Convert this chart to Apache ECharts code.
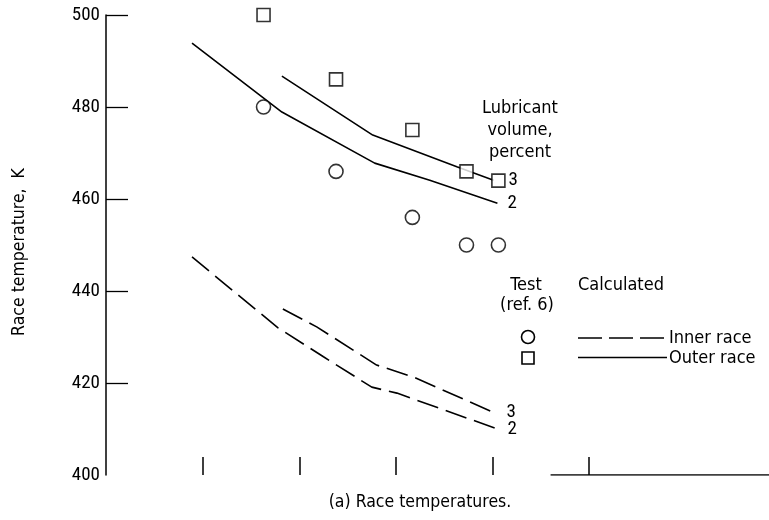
<!DOCTYPE html>
<html>
<head>
<meta charset="utf-8">
<script src="https://cdn.jsdelivr.net/npm/echarts@6/dist/echarts.min.js"></script>
<style>html,body{margin:0;padding:0;background:#fff}#c{width:769px;height:520px}</style>
</head>
<body>
<div id="c"></div>
<script>
// ---- data ----
var yTicks = [420, 440, 460, 480, 500];
var xTicks = [1, 2, 3, 4, 5];
var testX = [1.63, 2.38, 3.17, 3.73, 4.06];
var outerTest = [500, 486, 475, 466, 464];   // squares (outer race, test)
var innerTest = [480, 466, 456, 450, 450];   // circles (inner race, test)
var outer2X = [0.89, 1.82, 2.78, 3.35, 4.05];
var outer2Y = [493.9, 478.9, 467.8, 464.1, 459.1];
var outer3X = [1.82, 2.76, 3.63, 4.01];
var outer3Y = [486.7, 473.9, 467.0, 464.1];
var inner2X = [0.89, 1.78, 2.25, 2.75, 3.01, 4.05];
var inner2Y = [447.4, 432.0, 425.7, 419.1, 417.8, 410.0];
var inner3X = [1.83, 2.18, 2.80, 3.18, 4.0];
var inner3Y = [436.1, 432.2, 423.9, 421.3, 413.7];
var baselineX = [4.6, 6.86];
var baselineY = [400, 400];

function zip(xs, ys) { return xs.map(function (x, i) { return [x, ys[i]]; }); }

var FONT = "'DejaVu Sans Condensed', 'Roboto Condensed', sans-serif";
var NUMFONT = "'Roboto Condensed', 'DejaVu Sans Condensed', sans-serif";
var chart = echarts.init(document.getElementById('c'), null, {renderer: 'canvas'});

function curve(xs, ys, dashed, lbl, dist) {
  return {
    type: 'line', data: zip(xs, ys), symbol: 'none', smooth: false,
    lineStyle: {color: '#000', width: 1.6, type: dashed ? [22, 8] : 'solid'},
    endLabel: {show: true, formatter: lbl, color: '#000', fontFamily: NUMFONT, fontSize: 19, distance: dist},
    z: 3, silent: true, animation: false
  };
}

chart.setOption({
  animation: false,
  grid: {left: 106, right: 0, top: 15, bottom: 45, containLabel: false},
  xAxis: {
    type: 'value', min: 0, max: 6.86, interval: 1,
    axisLine: {show: false},
    axisTick: {show: true, inside: true, length: 18, customValues: xTicks, lineStyle: {color: '#000', width: 1.5}},
    axisLabel: {show: false},
    splitLine: {show: false}
  },
  yAxis: {
    type: 'value', min: 400, max: 500, interval: 20,
    axisLine: {show: true, lineStyle: {color: '#000', width: 1.5}},
    axisTick: {show: true, inside: true, length: 22, customValues: yTicks, lineStyle: {color: '#000', width: 1.3}},
    axisLabel: {color: '#000', fontFamily: NUMFONT, fontSize: 19, margin: 6},
    splitLine: {show: false}
  },
  series: [
    curve(outer2X, outer2Y, false, '2', 10),
    curve(outer3X, outer3Y, false, '3', 15),
    curve(inner2X, inner2Y, true, '2', 10),
    curve(inner3X, inner3Y, true, '3', 14),
    {type: 'scatter', data: zip(testX, outerTest), symbol: 'rect', symbolSize: 13,
     itemStyle: {color: '#fff', borderColor: '#000', borderWidth: 1.6}, z: 5},
    {type: 'scatter', data: zip(testX, innerTest), symbol: 'circle', symbolSize: 14,
     itemStyle: {color: '#fff', borderColor: '#000', borderWidth: 1.6}, z: 5},
    {type: 'line', data: zip(baselineX, baselineY), symbol: 'none',
     lineStyle: {color: '#000', width: 1.3}, silent: true}
  ],
  graphic: [
    {type: 'text', x: 19, y: 252, rotation: Math.PI / 2, style: {text: 'Race temperature,  K', fill: '#000', font: '17.5px ' + FONT, align: 'center', verticalAlign: 'middle'}},
    {type: 'text', x: 520, y: 130, style: {text: 'Lubricant\nvolume,\npercent', fill: '#000', font: '18px ' + FONT, align: 'center', verticalAlign: 'middle', lineHeight: 22}},
    {type: 'text', x: 526, y: 285, style: {text: 'Test', fill: '#000', font: '18px ' + FONT, align: 'center', verticalAlign: 'middle'}},
    {type: 'text', x: 527, y: 305, style: {text: '(ref. 6)', fill: '#000', font: '18px ' + FONT, align: 'center', verticalAlign: 'middle'}},
    {type: 'text', x: 578, y: 285, style: {text: 'Calculated', fill: '#000', font: '18px ' + FONT, align: 'left', verticalAlign: 'middle'}},
    {type: 'circle', shape: {cx: 528, cy: 337, r: 6.5}, style: {fill: '#fff', stroke: '#000', lineWidth: 1.6}},
    {type: 'rect', shape: {x: 522, y: 352, width: 12, height: 12}, style: {fill: '#fff', stroke: '#000', lineWidth: 1.6}},
    {type: 'line', shape: {x1: 578, y1: 338, x2: 667, y2: 338}, style: {stroke: '#000', lineWidth: 1.5, lineDash: [24, 7]}},
    {type: 'line', shape: {x1: 578, y1: 357.5, x2: 667, y2: 357.5}, style: {stroke: '#000', lineWidth: 1.3}},
    {type: 'text', x: 669, y: 338, style: {text: 'Inner race', fill: '#000', font: '18px ' + FONT, align: 'left', verticalAlign: 'middle'}},
    {type: 'text', x: 669, y: 358, style: {text: 'Outer race', fill: '#000', font: '18px ' + FONT, align: 'left', verticalAlign: 'middle'}},
    {type: 'text', x: 420, y: 502, style: {text: '(a) Race temperatures.', fill: '#000', font: '17.5px ' + FONT, align: 'center', verticalAlign: 'middle'}}
  ]
});
</script>
</body>
</html>
